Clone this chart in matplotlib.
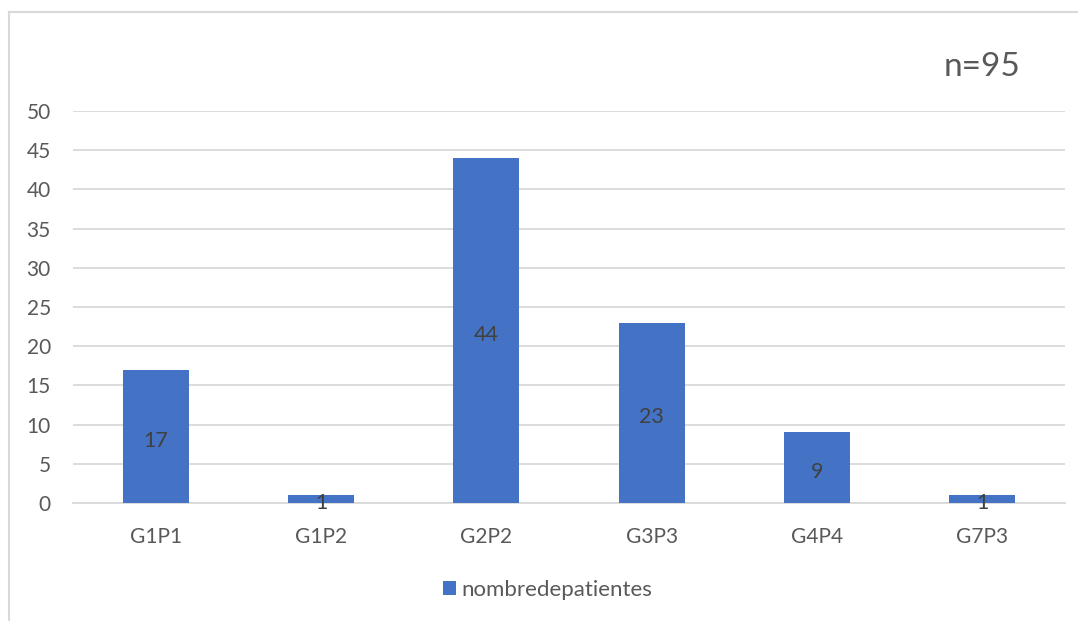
import matplotlib.pyplot as plt
from matplotlib.lines import Line2D
from matplotlib.patches import Patch

# =========================================================
# DATA
# =========================================================

categories = ["G1P1", "G1P2", "G2P2", "G3P3", "G4P4", "G7P3"]

patients = [17, 1, 44, 23, 9, 1]

series_name = "nombredepatientes"

total_label = "n=95"

yticks = [0, 5, 10, 15, 20, 25, 30, 35, 40, 45, 50]

# =========================================================
# STYLE
# =========================================================

plt.rcParams["font.family"] = ["Lato", "DejaVu Sans"]

BAR_COLOR = "#4472C4"
GRID_COLOR = "#D9D9D9"
TEXT_COLOR = "#595959"
LABEL_COLOR = "#404040"

# =========================================================
# FIGURE
# =========================================================

fig = plt.figure(figsize=(10.78, 6.21), dpi=100)

ax = fig.add_axes([0.0677, 0.19, 0.9203, 0.6313])

x = range(len(categories))

bars = ax.bar(

    x,

    patients,

    width=0.4,

    color=BAR_COLOR,

    zorder=3

)

for rect, value in zip(bars, patients):

    ax.annotate(

        str(value),

        (rect.get_x() + rect.get_width() / 2, value / 2),

        xytext=(0, -3),

        textcoords="offset points",

        ha="center",

        va="center",

        fontsize=15.5,

        color=LABEL_COLOR,

        zorder=4

    )

ax.set_xlim(-0.5, len(categories) - 0.5)

ax.set_ylim(0, 50)

ax.set_yticks(yticks)

ax.set_xticks(list(x))

ax.set_xticklabels(categories)

ax.yaxis.grid(True, color=GRID_COLOR, linewidth=1.3, zorder=0)

for side in ["top", "right", "left"]:

    ax.spines[side].set_visible(False)

ax.spines["bottom"].set_color(GRID_COLOR)

ax.spines["bottom"].set_linewidth(1.3)

ax.tick_params(

    axis="both",

    length=0,

    labelsize=15,

    labelcolor=TEXT_COLOR

)

ax.tick_params(axis="x", pad=17)

ax.tick_params(axis="y", pad=16)

for label in ax.get_yticklabels():

    label.set_horizontalalignment("right")

# =========================================================
# ANNOTATIONS
# =========================================================

fig.text(

    0.911,

    0.892,

    total_label,

    ha="center",

    va="center",

    fontsize=24,

    color=TEXT_COLOR

)

handles = [Patch(facecolor=BAR_COLOR, edgecolor="none")]

fig.legend(

    handles,

    [series_name],

    loc="center",

    bbox_to_anchor=(0.508, 0.05),

    frameon=False,

    fontsize=16,

    labelcolor=TEXT_COLOR,

    handlelength=0.6,

    handleheight=0.6,

    handletextpad=0.25

)

# chart area border (top and left edges)

fig.add_artist(Line2D([9 / 1078, 1], [1 - 12 / 621, 1 - 12 / 621], color=GRID_COLOR, linewidth=1.5))

fig.add_artist(Line2D([9 / 1078, 9 / 1078], [0, 1 - 12 / 621], color=GRID_COLOR, linewidth=1.5))

fig.savefig("out.png", dpi=100)
